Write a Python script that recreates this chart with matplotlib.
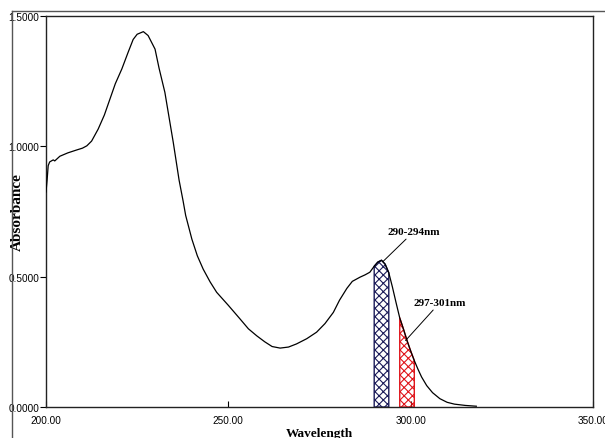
import numpy as np
import matplotlib
matplotlib.use("Agg")
import matplotlib.pyplot as plt
from matplotlib.lines import Line2D

# spectrum (wavelength nm, absorbance)
wavelength = [200.0, 200.3, 200.6, 201.0, 201.6, 202.0, 202.4, 203.8, 206.0, 208.4,
              210.0, 211.2, 212.5, 214.3, 216.0, 217.5, 219.0, 220.8, 222.5, 223.9,
              225.0, 226.7, 228.0, 229.9, 231.0, 232.6, 234.0, 234.9, 236.5, 237.6,
              238.3, 240.0, 241.5, 243.1, 245.0, 246.8, 250.0, 253.2, 255.5, 257.8,
              260.0, 262.0, 264.2, 266.5, 268.7, 271.5, 274.2, 276.5, 278.8, 280.5,
              282.5, 284.0, 286.1, 287.5, 288.8, 290.0, 291.0, 292.0, 293.0, 294.0,
              295.0, 296.0, 297.0, 298.0, 299.0, 300.0, 301.0, 302.0, 303.0, 304.4,
              306.0, 308.0, 310.0, 312.0, 315.0, 318.0]
absorbance = [0.825, 0.870, 0.926, 0.940, 0.945, 0.948, 0.944, 0.962, 0.975, 0.986,
              0.993, 1.002, 1.020, 1.066, 1.120, 1.180, 1.240, 1.297, 1.360, 1.410,
              1.430, 1.440, 1.425, 1.373, 1.300, 1.207, 1.090, 1.015, 0.870, 0.790,
              0.735, 0.644, 0.580, 0.529, 0.480, 0.440, 0.390, 0.338, 0.300, 0.273,
              0.250, 0.232, 0.226, 0.230, 0.242, 0.262, 0.287, 0.320, 0.363, 0.410,
              0.455, 0.482, 0.498, 0.507, 0.517, 0.540, 0.556, 0.563, 0.548, 0.515,
              0.460, 0.400, 0.342, 0.300, 0.255, 0.215, 0.178, 0.145, 0.115, 0.082,
              0.055, 0.032, 0.018, 0.011, 0.006, 0.003]

band1 = (290, 294)
band2 = (297, 301)
band1_label = "290-294nm"
band2_label = "297-301nm"

xticks = [200, 250, 300, 350]
yticks = [0.0, 0.5, 1.0, 1.5]

plt.rcParams['hatch.linewidth'] = 0.8

fig = plt.figure(figsize=(6.05, 4.39), dpi=100)
ax = fig.add_axes([46 / 605, 31 / 439, 547 / 605, 391 / 439])

wl = np.array(wavelength)
ab = np.array(absorbance)
ax.plot(wl, ab, color="black", lw=0.9, zorder=3)

m1 = (wl >= band1[0]) & (wl <= band1[1])
m2 = (wl >= band2[0]) & (wl <= band2[1])
ax.fill_between(wl[m1], 0, ab[m1], facecolor="none", edgecolor="#1c1c5a",
                hatch="xxxx", lw=1.0, zorder=2)
ax.fill_between(wl[m2], 0, ab[m2], facecolor="none", edgecolor="#e0161c",
                hatch="xxxx", lw=1.0, zorder=2)

ax.set_xlim(200, 350)
ax.set_ylim(0, 1.5)
ax.set_xticks(xticks)
ax.set_yticks(yticks)
ax.set_xticklabels(["%.2f" % v for v in xticks], family="Liberation Sans", fontsize=7.2)
ax.set_yticklabels(["%.4f" % v for v in yticks], family="Liberation Sans", fontsize=7.2)
ax.tick_params(axis="x", direction="in", length=4, width=0.8, pad=6)
ax.tick_params(axis="y", direction="out", length=4, width=0.8, pad=1)
for s in ax.spines.values():
    s.set_linewidth(1.0)
    s.set_color("#222222")

ax.set_xlabel("Wavelength", family="Liberation Serif", fontweight="bold",
              fontsize=9.5, labelpad=1)
ax.set_ylabel("Absorbance", family="Liberation Serif", fontweight="bold",
              fontsize=11)
ax.yaxis.set_label_coords(-0.04, 0.5)

# callouts
ax.annotate(band1_label, xy=(292.4, 0.558), xytext=(293.6, 0.672),
            family="Liberation Serif", fontweight="bold", fontsize=8,
            va="center", ha="left",
            arrowprops=dict(arrowstyle="-", color="black", lw=0.7,
                            shrinkA=0, shrinkB=0))
ax.annotate(band2_label, xy=(298.6, 0.255), xytext=(300.8, 0.40),
            family="Liberation Serif", fontweight="bold", fontsize=8,
            va="center", ha="left",
            arrowprops=dict(arrowstyle="-", color="black", lw=0.7,
                            shrinkA=0, shrinkB=0))

# outer frame of the original window
fig.add_artist(Line2D([12 / 605, 12 / 605], [0, 427 / 439], color="#555555", lw=1.0))
fig.add_artist(Line2D([12 / 605, 1], [427 / 439, 427 / 439], color="#555555", lw=1.0))

fig.savefig("out.png", dpi=100)
